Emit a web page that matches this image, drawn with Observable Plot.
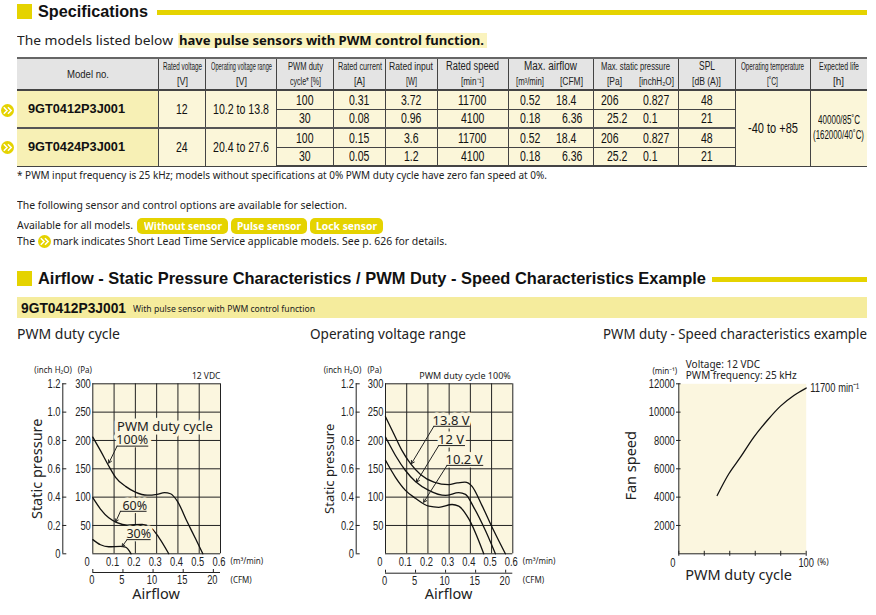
<!DOCTYPE html>
<html><head><meta charset="utf-8">
<script src="https://cdn.jsdelivr.net/npm/d3@7"></script>
<script src="https://cdn.jsdelivr.net/npm/@observablehq/plot@0.6"></script>
<style>
html,body{margin:0;padding:0;background:#fff}
#page{position:relative;width:876px;height:615px;overflow:hidden;font-family:"Noto Sans",sans-serif;color:#222}
.abs{position:absolute;white-space:nowrap}
.sq{position:absolute;left:17px;width:15px;height:15px;background:#e5d300}
.bar{position:absolute;height:5px;background:#e5d300}
.fit{display:inline-block;white-space:nowrap;text-align:left}
.fit>span{display:inline-block;transform-origin:0 50%}
table{position:absolute;left:17px;top:57px;width:850px;border-collapse:collapse;table-layout:fixed;font-family:"Liberation Sans",sans-serif;color:#111}
td{border:1px solid #444;padding:0;text-align:center;background:#fbf6d9;font-size:14px;height:17.5px;line-height:14px;white-space:nowrap}
tr.hd td{background:#e4e4e4;font-size:10.5px;height:28px;line-height:15px;border-top:2px solid #666;border-bottom:2px solid #444;color:#222}
td.m{background:#f7f0b5;font-weight:700;font-size:13px;text-align:left;padding-left:11px;color:#111}
td.nr{border-right:none}td.nl{border-left:none}
tr.last td{border-bottom:2px solid #444}
tr.sep td{border-top:2px solid #555}
td:first-child{border-left:none}td:last-child{border-right:none}
.pill{position:absolute;background:#e5d300;color:#fff;font-weight:700;font-size:11px;height:16px;line-height:16px;text-align:center;border-radius:5px;white-space:nowrap}
.chart{position:absolute}
</style></head><body><div id="page"></div>
<script>
const modelNames=["9GT0412P3J001","9GT0424P3J001"];
const ratedVoltage=[12,24];
const voltageRange=["10.2 to 13.8","20.4 to 27.6"];
const dutyRows=["100","30","100","30"];
const ratedCurrent=["0.31","0.08","0.15","0.05"];
const ratedInput=["3.72","0.96","3.6","1.2"];
const ratedSpeed=["11700","4100","11700","4100"];
const airflowM3=["0.52","0.18","0.52","0.18"];
const airflowCFM=["18.4","6.36","18.4","6.36"];
const pressurePa=["206","25.2","206","25.2"];
const pressureInch=["0.827","0.1","0.827","0.1"];
const spl=["48","21","48","21"];
const colEdges=[17,158.5,205.5,276.5,333.5,385.5,437,508,551.5,593,635.5,678,735,810,867];

const duty100=[[0,206],[.036,182],[.078,153],[.107,135],[.154,119],[.2,109],[.255,103.5],[.302,105],[.337,108],[.365,106],[.397,93],[.444,56],[.483,26.5],[.517,0]];
const duty60=[[0,99],[.036,79],[.075,63.5],[.114,55],[.161,50.6],[.232,52],[.271,47],[.31,29],[.357,0]];
const duty30=[[0,25],[.036,16],[.075,12.4],[.13,13],[.154,11.8],[.18,0]];
const volt138=[[0,242],[.039,212],[.078,182],[.118,159],[.165,140],[.228,126.5],[.298,122],[.338,125],[.374,126.5],[.408,119],[.455,85],[.51,41],[.565,0]];
const volt12=[[0,206],[.047,173.5],[.094,147],[.141,127.6],[.204,112],[.283,103],[.345,108],[.377,105],[.416,82],[.471,41],[.518,0]];
const volt102=[[0,165],[.047,135],[.094,112],[.141,98],[.204,84],[.251,82],[.314,87],[.345,84],[.392,62],[.463,0]];
const speedCurve=[[30.1,4118],[39.3,5650],[48.4,6820],[58.9,8235],[69.4,9410],[79.8,10424],[90.3,11176],[100,11700]];

const m3Ticks=[0,.1,.2,.3,.4,.5,.6];
const paTicks=[50,100,150,200,250,300];
const inchTicks=[0,.2,.4,.6,.8,1,1.2];
const cfmTicks=[0,5,10,15,20];
const rpmTicks=[2000,4000,6000,8000,10000,12000];
const dutyTicks=[0,20,40,60,80,100];

const page=document.getElementById("page");
const SANS='"Noto Sans",sans-serif', LIB='"Liberation Sans",sans-serif';
const INK="#222",BG="#fbf6df";
function add(html){const d=document.createElement("div");d.innerHTML=html;while(d.firstChild)page.appendChild(d.firstChild);}
const f=(t,w)=>`<span class="fit" data-w="${w}"><span>${t}</span></span>`;
const fk=(t,k=.75)=>`<span class="fit" data-k="${k}"><span>${t}</span></span>`;
const line=(t,x,y,w,fs,extra="")=>`<div class="abs" style="left:${x}px;top:${y}px;font-size:${fs}px;line-height:16px;${extra}">${f(t,w)}</div>`;
const badge=(x,y,r=6.5)=>`<svg class="abs" style="left:${x-r}px;top:${y-r}px" width="${2*r}" height="${2*r}" viewBox="-7 -7 14 14"><circle r="7" fill="#e5d300"/><path d="M-4-3.5 -.5 0 -4 3.5M.5-3.5 4 0 .5 3.5" fill="none" stroke="#fff" stroke-width="1.6"/></svg>`;
const HB=`font-family:'Liberation Sans';font-weight:700;color:#111;`;

add(`<div class="sq" style="top:4px"></div><div class="bar" style="left:157px;right:9px;top:10px"></div>`);
add(line("Specifications",38,3,110,16.5,HB));
add(`<div class="abs" style="left:177.5px;top:33px;width:309px;height:14.6px;background:#faf3be"></div>`);
add(line("The models listed below",17,32,156,13));
add(line("have pulse sensors with PWM control function.",179,32,305,13,"font-weight:700;color:#111"));

const H=(t,w,fs=11)=>`<span style="font-size:${fs}px">${f(t,w)}</span>`;
const half=(a,aw,b,bw)=>`<span style="display:flex"><span style="width:50%">${H(a,aw,10)}</span><span style="width:50%">${H(b,bw,10)}</span></span>`;
let rows=`<tr class="hd"><td>${H("Model no.",42,11)}</td>
<td>${H("Rated voltage",39)}<br>${H("[V]",11,10)}</td>
<td>${H("Operating voltage range",61)}<br>${H("[V]",11,10)}</td>
<td>${H("PWM duty",35,10.5)}<br>${H("cycle* [%]",31,10)}</td>
<td>${H("Rated current",44)}<br>${H("[A]",11,10)}</td>
<td>${H("Rated input",44)}<br>${H("[W]",11,10)}</td>
<td>${H("Rated speed",53,12)}<br>${H("[min⁻¹]",23,10)}</td>
<td colspan="2">${H("Max. airflow",53,12)}<br>${half("[m³/min]",28,"[CFM]",23)}</td>
<td colspan="2">${H("Max. static pressure",69,11)}<br>${half("[Pa]",15,"[inchH₂O]",35)}</td>
<td>${H("SPL",16,12)}<br>${H("[dB (A)]",29,10)}</td>
<td>${H("Operating temperature",63)}<br>${H("[˚C]",11,10)}</td>
<td>${H("Expected life",40)}<br>${H("[h]",11,10)}</td></tr>`;
const cfmPad=[15.7,10,15.7,10], paPad=[7.3,13,7.3,13];
for(let i=0;i<4;i++){
 const mi=i>>1, first=i%2==0;
 rows+=`<tr class="${i==3?"last":""} ${i==2?"sep":""}">`;
 if(first) rows+=`<td rowspan="2" class="m">${f(modelNames[mi],97)}</td><td rowspan="2">${fk(ratedVoltage[mi])}</td><td rowspan="2">${f(voltageRange[mi],56)}</td>`;
 rows+=`<td>${fk(dutyRows[i])}</td><td>${fk(ratedCurrent[i])}</td><td>${fk(ratedInput[i])}</td><td>${fk(ratedSpeed[i])}</td><td class="nr">${fk(airflowM3[i])}</td><td class="nl" style="text-align:right;padding-right:${cfmPad[i]}px">${fk(airflowCFM[i])}</td><td class="nr" style="text-align:left;padding-left:${paPad[i]}px">${fk(pressurePa[i])}</td><td class="nl" style="text-align:left;padding-left:7px">${fk(pressureInch[i])}</td><td>${fk(spl[i])}</td>`;
 if(i==0) rows+=`<td rowspan="4">${f("-40 to +85",50)}</td><td rowspan="4" style="font-size:12px;line-height:15px">${f("40000/85˚C",42)}<br>${f("(162000/40˚C)",51)}</td>`;
 rows+=`</tr>`;
}
const cg=colEdges.slice(1).map((e,i)=>`<col style="width:${e-colEdges[i]}px">`).join("");
add(`<table><colgroup>${cg}</colgroup>${rows}</table>`);
add(badge(7,110)+badge(7,147));

add(line("* PWM input frequency is 25 kHz; models without specifications at 0% PWM duty cycle have zero fan speed at 0%.",17,167,530,10.5));
add(line("The following sensor and control options are available for selection.",17,197,330,10.5));
add(line("Available for all models.",17,217,116,10.5));
[["Without sensor",137,91,78],["Pulse sensor",231,76,64],["Lock sensor",310,73,61]].forEach(p=>add(`<div class="pill" style="left:${p[1]}px;top:218px;width:${p[2]}px">${f(p[0],p[3])}</div>`));
add(line("The",17,233,18,10.5));
add(badge(44,241.5));
add(line("mark indicates Short Lead Time Service applicable models. See p. 626 for details.",53,233,394,10.5));

add(`<div class="sq" style="top:271px"></div><div class="bar" style="left:712px;right:9px;top:277px"></div>`);
add(line("Airflow - Static Pressure Characteristics / PWM Duty - Speed Characteristics Example",38,270,668,16.5,HB));
add(`<div class="abs" style="left:17px;top:297px;width:850px;height:21px;background:#f5ec9d"></div>`);
add(line("9GT0412P3J001",21,300,105,14,HB));
add(line("With pulse sensor with PWM control function",133.3,301,182,8));
add(line("PWM duty cycle",17,326,103,13.5)+line("Operating voltage range",310,326,156,13.5)+line("PWM duty - Speed characteristics example",603,326,264,13.5));

function txt(t,x,y,o={}){return Plot.text([t],{x:()=>x,y:()=>y,text:d=>d,fill:INK,fontFamily:LIB,fontSize:8,lineAnchor:"middle",...o});}
const num={fill:INK,fontFamily:LIB,fontSize:13,lineAnchor:"middle",className:"nr"};
function pressureChart(cfg){
 const curve=pts=>Plot.line(pts,{x:d=>d[0],y:d=>d[1],stroke:"#111",strokeWidth:1.3,curve:"monotone-x"});
 const yPx=170/300,xPx=cfg.w/.6;
 const inchX=-cfg.inchOff/xPx, cfmY=-cfg.cfmOff/yPx;
 const marks=[
  Plot.frame({fill:BG,stroke:"none"}),
  Plot.ruleX(m3Ticks,{x:d=>d,y1:0,y2:300,stroke:INK,strokeWidth:1}),
  Plot.ruleY([0,...paTicks],{y:d=>d,x1:0,x2:.6,stroke:INK,strokeWidth:1}),
  ...cfg.curves.map(curve),
  Plot.text([0],{x:d=>d,y:()=>-8/yPx,dx:-5.6,text:()=>"0",...num}),
  Plot.text(m3Ticks.slice(1),{x:d=>d,y:()=>-8/yPx,dx:-1.5,text:d=>d.toFixed(1),...num}),
  Plot.text(paTicks,{x:()=>0,y:d=>d,dx:-2,textAnchor:"end",text:d=>""+d,...num}),
  Plot.ruleX([inchX],{x:d=>d,y1:0,y2:300,stroke:INK}),
  Plot.ruleY(inchTicks,{y:d=>d*250,x1:inchX,x2:inchX+4/xPx,stroke:INK}),
  Plot.text(inchTicks,{x:()=>inchX,y:d=>d*250,dx:-2.3,textAnchor:"end",text:d=>d==0?"0":d.toFixed(1),...num}),
  Plot.ruleY([cfmY],{y:d=>d,x1:0,x2:.6,stroke:INK}),
  Plot.ruleX(cfmTicks,{x:d=>d/35.31,y1:cfmY,y2:cfmY+3/yPx,stroke:INK}),
  Plot.text(cfmTicks,{x:d=>d/35.31,y:()=>cfmY-7.5/yPx,dx:-1,text:d=>""+d,...num}),
  txt("(m³/min)",.6,-8/yPx,{dx:10,textAnchor:"start",fontFamily:SANS}),
  txt("(CFM)",.6,cfmY-7.5/yPx,{dx:10,textAnchor:"start",fontFamily:SANS}),
  txt("(inch H₂O)",0,300,{dx:cfg.inchDx,dy:-13,fontFamily:SANS}),
  txt("(Pa)",0,300,{dx:cfg.paDx,dy:-13,fontFamily:SANS}),
  txt(cfg.tag,.6,300,{textAnchor:"end",dx:cfg.tagDx,dy:-8,fontSize:cfg.tagSize,fontFamily:SANS}),
  txt("Airflow",.3,-40.7/yPx,{dx:-.6,fontSize:14.5,fontFamily:SANS}),
  txt("Static pressure",inchX,150,{dx:-cfg.yLabelOff,rotate:-90,fontSize:cfg.yLabelSize,fontFamily:SANS}),
  ...(cfg.extra||[]),
  ...cfg.notes.flatMap(n=>[
    Plot.text([n],{x:d=>d.x,y:d=>d.y,text:d=>d.t,fill:INK,fontFamily:SANS,fontSize:cfg.noteSize,stroke:BG,strokeWidth:7}),
    Plot.ruleY([n.u],{y:d=>d,x1:n.x1,x2:n.x2,stroke:INK,strokeWidth:1}),
    Plot.arrow([n],{x1:d=>d.x1,y1:d=>d.u,x2:d=>d.ax,y2:d=>d.ay,bend:0,stroke:INK,strokeWidth:1,headLength:5}),
  ])
 ];
 const svg=Plot.plot({width:cfg.cw,height:250,marginLeft:cfg.left,marginRight:cfg.cw-cfg.left-cfg.w,marginTop:28.3,marginBottom:51.7,
  x:{domain:[0,.6],axis:null},y:{domain:[0,300],axis:null},style:{background:"transparent",overflow:"visible"},marks});
 svg.classList.add("chart");svg.style.left=cfg.l+"px";svg.style.top="355px";page.appendChild(svg);
 return svg;
}
const svgs=[];
svgs.push(pressureChart({l:10,cw:265,left:82.3,w:127.7,inchOff:30,cfmOff:18.7,yLabelOff:25.5,yLabelSize:14.5,noteSize:12.5,tag:"12 VDC",tagSize:8.5,tagDx:0,inchDx:-39.6,paDx:-8,
 curves:[duty100,duty60,duty30],
 extra:[txt("PWM duty cycle",.339,223.5,{fontSize:13,fontFamily:SANS,stroke:BG,strokeWidth:7})],
 notes:[{t:"100%",x:.185,y:200,u:190,x1:.114,x2:.263,ax:.075,ay:160},
  {t:"60%",x:.197,y:85,u:75,x1:.13,x2:.255,ax:.107,ay:56},
  {t:"30%",x:.216,y:35,u:25,x1:.161,x2:.274,ax:.138,ay:13}]}));
svgs.push(pressureChart({l:305,cw:265,left:80,w:127.3,inchOff:29.3,cfmOff:19.4,yLabelOff:26.7,yLabelSize:13,noteSize:13,tag:"PWM duty cycle 100%",tagSize:9,tagDx:-2,inchDx:-43,paDx:-11,
 curves:[volt138,volt12,volt102],
 notes:[{t:"13.8 V",x:.309,y:235,u:225,x1:.228,x2:.4,ax:.122,ay:159},
  {t:"12 V",x:.309,y:202,u:191,x1:.251,x2:.377,ax:.146,ay:126.5},
  {t:"10.2 V",x:.37,y:166,u:156,x1:.29,x2:.463,ax:.18,ay:91}]}));

{
 const yPx=170/12000;
 const svg=Plot.plot({width:276,height:250,marginLeft:78.3,marginRight:70.3,marginTop:28.3,marginBottom:51.7,
  x:{domain:[0,100],axis:null},y:{domain:[0,12000],axis:null},style:{background:"transparent",overflow:"visible"},
  marks:[
   Plot.frame({fill:BG,stroke:"none"}),
   Plot.ruleX([0],{x:d=>d,y1:0,y2:12000,stroke:INK}),
   Plot.ruleY([0],{y:d=>d,x1:0,x2:100,stroke:INK}),
   Plot.ruleX(dutyTicks,{x:d=>d,y1:-2.5/yPx,y2:2.5/yPx,stroke:INK}),
   Plot.ruleY(rpmTicks,{y:d=>d,x1:-1.8,x2:1.8,stroke:INK}),
   Plot.text(rpmTicks,{x:()=>0,y:d=>d,dx:-4,textAnchor:"end",text:d=>""+d,...num}),
   txt("0",0,0,{dx:-6,dy:8.7,...num}),
   txt("100",100,0,{dy:8.7,...num}),
   txt("(%)",100,0,{dx:11,dy:8.7,textAnchor:"start",fontFamily:SANS}),
   txt("(min⁻¹)",0,12000,{dx:-14,dy:-12.6,fontFamily:SANS}),
   txt("Voltage: 12 VDC",0,12000,{dx:7,dy:-19.3,textAnchor:"start",fontSize:10,fontFamily:SANS}),
   txt("PWM frequency: 25 kHz",0,12000,{dx:7,dy:-7.6,textAnchor:"start",fontSize:10,fontFamily:SANS}),
   txt("11700 min⁻¹",100,11700,{dx:4,textAnchor:"start",...num}),
   txt("PWM duty cycle",50,0,{dx:-4,dy:22,fontSize:14.5,fontFamily:SANS}),
   txt("Fan speed",0,6000,{dx:-47.6,dy:-3,rotate:-90,fontSize:14.5,fontFamily:SANS}),
   Plot.line(speedCurve,{x:d=>d[0],y:d=>d[1],stroke:"#111",strokeWidth:1.3,curve:"monotone-x"}),
  ]});
 svg.classList.add("chart");svg.style.left="600px";svg.style.top="355px";page.appendChild(svg);
 svgs.push(svg);
}
svgs.forEach(s=>s.querySelectorAll(".nr text").forEach(t=>{
 const n=t.getComputedTextLength();
 t.setAttribute("textLength",n*.72);t.setAttribute("lengthAdjust","spacingAndGlyphs");
}));
document.querySelectorAll(".fit").forEach(el=>{
 const inner=el.firstElementChild, w=inner.getBoundingClientRect().width;
 const target=el.dataset.w?+el.dataset.w:w*+el.dataset.k;
 el.style.width=target+"px";
 inner.style.transform=`scaleX(${target/w})`;
});
</script></body></html>
